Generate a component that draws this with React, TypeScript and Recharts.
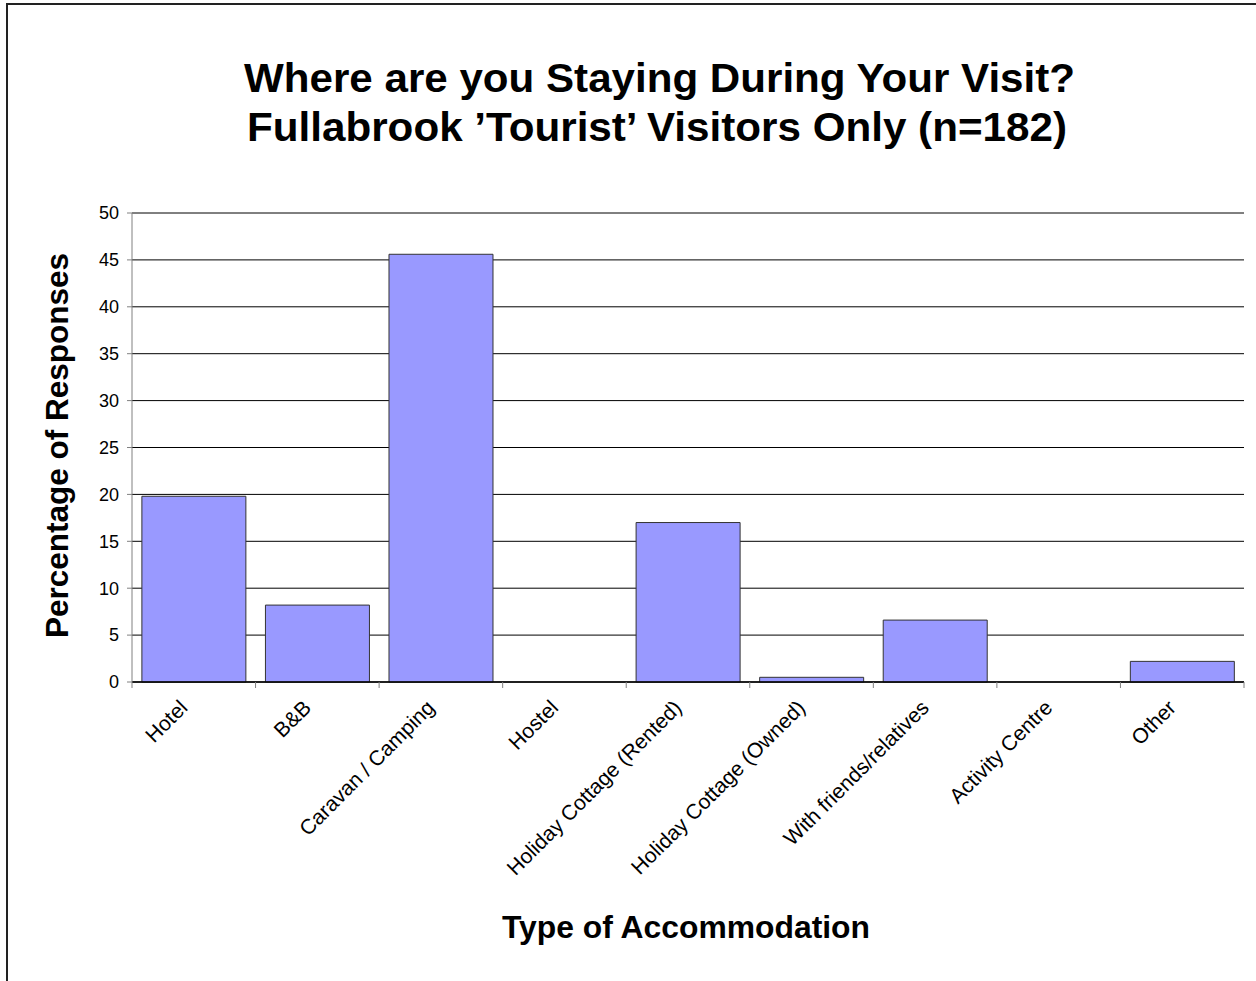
import React from 'react';
import { BarChart, Bar, XAxis, YAxis, CartesianGrid } from 'recharts';

const CATEGORIES = [
  'Hotel',
  'B&B',
  'Caravan / Camping',
  'Hostel',
  'Holiday Cottage (Rented)',
  'Holiday Cottage (Owned)',
  'With friends/relatives',
  'Activity Centre',
  'Other',
];
const PERCENTAGES = [19.8, 8.2, 45.6, 0, 17.0, 0.5, 6.6, 0, 2.2];
const Y_TICKS = [0, 5, 10, 15, 20, 25, 30, 35, 40, 45, 50];

const W = 1256;
const H = 981;
const MARGIN = { top: 213, right: 12, bottom: 0, left: 0 };
const Y_AXIS_W = 132;
const X_AXIS_H = 299;
const FONT = '"Liberation Sans", Arial, sans-serif';

const data = CATEGORIES.map((name, i) => ({ name, value: PERCENTAGES[i] }));

// width of one category, so tick marks sit between categories like in Excel
const BAND = (W - MARGIN.left - MARGIN.right - Y_AXIS_W) / CATEGORIES.length;

const CategoryTick = (props: any) => {
  const { x, y, payload, index } = props;
  const last = index === CATEGORIES.length - 1;
  const lx = x - 5;
  const ly = y + 27;
  return (
    <g>
      <line x1={x - BAND / 2} y1={y} x2={x - BAND / 2} y2={y + 6} stroke="#808080" />
      {last && <line x1={x + BAND / 2} y1={y} x2={x + BAND / 2} y2={y + 6} stroke="#808080" />}
      <text
        x={lx}
        y={ly}
        textAnchor="end"
        fontSize={21}
        fontFamily={FONT}
        fill="#000"
        transform={`rotate(-45 ${lx} ${ly})`}
      >
        {payload.value}
      </text>
    </g>
  );
};

export default function App() {
  return (
    <div style={{ position: 'absolute', left: 0, top: 0, width: W, height: H, overflow: 'hidden', background: '#fff' }}>
      <BarChart width={W} height={H} data={data} margin={MARGIN} barCategoryGap="8%">
        <CartesianGrid vertical={false} stroke="#000" />
        <XAxis
          dataKey="name"
          height={X_AXIS_H}
          interval={0}
          tickSize={0}
          tickMargin={0}
          tickLine={false}
          axisLine={{ stroke: '#000', strokeWidth: 1.5 }}
          tick={<CategoryTick />}
        />
        <YAxis
          width={Y_AXIS_W}
          domain={[0, 50]}
          ticks={Y_TICKS}
          interval={0}
          tickSize={5}
          tickMargin={8}
          axisLine={{ stroke: '#808080' }}
          tickLine={{ stroke: '#808080' }}
          tick={{ fill: '#000', fontSize: 18, fontFamily: FONT }}
        />
        <Bar dataKey="value" fill="#9999FF" stroke="#333" strokeWidth={1} isAnimationActive={false} />
      </BarChart>
      <svg width={W} height={H} style={{ position: 'absolute', left: 0, top: 0, pointerEvents: 'none' }}>
        <rect x={7} y={4} width={1270} height={1000} fill="none" stroke="#222" strokeWidth={2} />
        <text x={659.5} y={92} textAnchor="middle" fontSize={41} fontWeight="bold" fontFamily={FONT} textLength={831} lengthAdjust="spacingAndGlyphs">
          Where are you Staying During Your Visit?
        </text>
        <text x={657} y={141} textAnchor="middle" fontSize={41} fontWeight="bold" fontFamily={FONT} textLength={820} lengthAdjust="spacingAndGlyphs">
          Fullabrook ’Tourist’ Visitors Only (n=182)
        </text>
        <text x={686} y={938} textAnchor="middle" fontSize={31} fontWeight="bold" fontFamily={FONT} textLength={368} lengthAdjust="spacingAndGlyphs">
          Type of Accommodation
        </text>
        <text
          x={68}
          y={445.5}
          textAnchor="middle"
          fontSize={32}
          fontWeight="bold"
          fontFamily={FONT}
          textLength={385}
          lengthAdjust="spacingAndGlyphs"
          transform="rotate(-90 68 445.5)"
        >
          Percentage of Responses
        </text>
      </svg>
    </div>
  );
}
